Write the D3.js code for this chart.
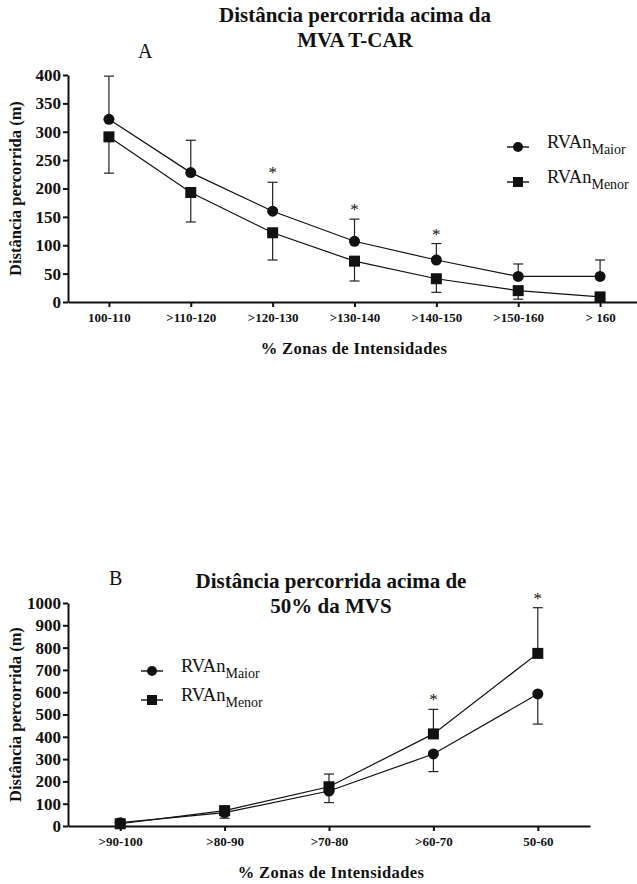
<!DOCTYPE html>
<html>
<head>
<meta charset="utf-8">
<script src="https://cdn.jsdelivr.net/npm/d3@7"></script>
<style>
  body { margin: 0; background: #fff; }
</style>
</head>
<body>
<div id="chart"></div>
<script>
var FONTE = "Liberation Serif";

// painel A
var zonasA = ["100-110", ">110-120", ">120-130", ">130-140", ">140-150", ">150-160", "> 160"];
var maiorA = [322, 228, 160, 107, 74, 45, 45];
var maiorErrA = [76, 57, 51, 39, 29, 22, 29];
var menorA = [291, 193, 122, 72, 41, 20, 9];
var menorErrA = [64, 52, 48, 35, 24, 15, 0];
var sigA = [2, 3, 4];
var ticksA = [0, 50, 100, 150, 200, 250, 300, 350, 400];

// painel B
var zonasB = [">90-100", ">80-90", ">70-80", ">60-70", "50-60"];
var maiorB = [15, 60, 157, 323, 592];
var maiorErrB = [5, 25, 52, 79, 135];
var menorB = [10, 69, 176, 413, 774];
var menorErrB = [5, 10, 57, 110, 205];
var sigB = [3, 4];
var ticksB = [0, 100, 200, 300, 400, 500, 600, 700, 800, 900, 1000];

var svg = d3.select("#chart").append("svg")
    .attr("width", 637)
    .attr("height", 884)
    .attr("font-family", FONTE);

function painel(cfg) {
    var x = d3.scalePoint()
        .domain(cfg.zonas)
        .range(cfg.xRange)
        .padding(0.5);
    var y = d3.scaleLinear()
        .domain([0, d3.max(cfg.ticks)])
        .range(cfg.yRange);

    var g = svg.append("g");

    // eixos
    var ax = g.append("g")
        .attr("transform", "translate(0," + cfg.yRange[0] + ")")
        .call(d3.axisBottom(x).tickSize(5).tickSizeOuter(0).tickPadding(6));
    ax.attr("font-family", FONTE);
    ax.selectAll("text").attr("font-family", FONTE).attr("font-size", 13)
        .attr("font-weight", "bold").attr("fill", "#111");

    var ay = g.append("g")
        .attr("transform", "translate(" + cfg.xRange[0] + ",0)")
        .call(d3.axisLeft(y).tickValues(cfg.ticks).tickFormat(d3.format("d"))
            .tickSize(5).tickSizeOuter(0).tickPadding(2));
    ay.attr("font-family", FONTE);
    ay.selectAll("text").attr("font-family", FONTE).attr("font-size", 17)
        .attr("font-weight", "bold").attr("fill", "#111");

    g.selectAll(".domain").attr("stroke-width", 2).attr("stroke", "#111");
    g.selectAll(".tick line").attr("stroke-width", 2).attr("stroke", "#111");

    // barras de erro
    function erros(vals, errs, dir) {
        vals.forEach(function(v, i) {
            if (!errs[i]) return;
            var cx = x(cfg.zonas[i]), y0 = y(v), y1 = y(v + dir * errs[i]);
            g.append("line").attr("x1", cx).attr("x2", cx).attr("y1", y0).attr("y2", y1)
                .attr("stroke", "#222").attr("stroke-width", 1.2);
            g.append("line").attr("x1", cx - 5).attr("x2", cx + 5).attr("y1", y1).attr("y2", y1)
                .attr("stroke", "#222").attr("stroke-width", 1.2);
        });
    }
    erros(cfg.maior, cfg.maiorErr, cfg.maiorDir);
    erros(cfg.menor, cfg.menorErr, -cfg.maiorDir);

    var line = d3.line()
        .x(function(d, i) { return x(cfg.zonas[i]); })
        .y(function(d) { return y(d); });

    [cfg.maior, cfg.menor].forEach(function(s) {
        g.append("path").datum(s).attr("d", line)
            .attr("fill", "none").attr("stroke", "#111").attr("stroke-width", 1.2);
    });

    g.selectAll(".pt-maior").data(cfg.maior).enter().append("circle")
        .attr("cx", function(d, i) { return x(cfg.zonas[i]); })
        .attr("cy", function(d) { return y(d); })
        .attr("r", 5.5).attr("fill", "#111");

    g.selectAll(".pt-menor").data(cfg.menor).enter().append("rect")
        .attr("x", function(d, i) { return x(cfg.zonas[i]) - 5.5; })
        .attr("y", function(d) { return y(d) - 5.5; })
        .attr("width", 11).attr("height", 11).attr("fill", "#111");

    // asteriscos
    cfg.sig.forEach(function(i) {
        var s = cfg.sigSerie, e = cfg.sigErr;
        g.append("text")
            .attr("x", x(cfg.zonas[i]))
            .attr("y", y(s[i] + e[i]) - 4)
            .attr("text-anchor", "middle")
            .attr("font-size", 17).attr("fill", "#111")
            .text("*");
    });

    // titulos
    cfg.titulo.forEach(function(t, k) {
        g.append("text")
            .attr("x", cfg.tituloX).attr("y", cfg.tituloY + k * 25)
            .attr("text-anchor", "middle")
            .attr("font-size", 21).attr("font-weight", "bold").attr("fill", "#111")
            .text(t);
    });
    g.append("text").attr("x", cfg.letra[1]).attr("y", cfg.letra[2])
        .attr("font-size", 20).attr("fill", "#111").text(cfg.letra[0]);

    var ymid = (cfg.yRange[0] + cfg.yRange[1]) / 2;
    g.append("text")
        .attr("transform", "translate(21," + ymid + ") rotate(-90)")
        .attr("text-anchor", "middle")
        .attr("font-size", 16.5).attr("font-weight", "bold").attr("fill", "#111")
        .text("Distância percorrida (m)");

    g.append("text")
        .attr("x", cfg.xTituloX).attr("y", cfg.yRange[0] + 52)
        .attr("text-anchor", "middle")
        .attr("font-size", 16.5).attr("font-weight", "bold").attr("fill", "#111")
        .attr("letter-spacing", 0.4)
        .text("% Zonas de Intensidades");

    // legenda
    [["Maior", "circle"], ["Menor", "rect"]].forEach(function(d, k) {
        var lx = cfg.leg[0], ly = cfg.leg[1] + k * cfg.leg[2];
        g.append("line").attr("x1", lx - 11).attr("x2", lx + 11).attr("y1", ly).attr("y2", ly)
            .attr("stroke", "#111").attr("stroke-width", 1.4);
        if (d[1] == "circle") {
            g.append("circle").attr("cx", lx).attr("cy", ly).attr("r", 5).attr("fill", "#111");
        } else {
            g.append("rect").attr("x", lx - 5).attr("y", ly - 5).attr("width", 10).attr("height", 10).attr("fill", "#111");
        }
        var t = g.append("text").attr("x", lx + 29).attr("y", ly + 1).attr("font-size", 18.5).attr("fill", "#111");
        t.append("tspan").text("RVAn");
        t.append("tspan").attr("font-size", 14).attr("dy", 6).text(d[0]);
    });
}

painel({
    zonas: zonasA, maior: maiorA, maiorErr: maiorErrA, menor: menorA, menorErr: menorErrA,
    maiorDir: 1, sig: sigA, sigSerie: maiorA, sigErr: maiorErrA, ticks: ticksA,
    xRange: [68, 641], yRange: [302, 75],
    titulo: ["Distância percorrida acima da", "MVA T-CAR"], tituloX: 355, tituloY: 22,
    letra: ["A", 138, 58], xTituloX: 354, leg: [518, 147, 35]
});

painel({
    zonas: zonasB, maior: maiorB, maiorErr: maiorErrB, menor: menorB, menorErr: menorErrB,
    maiorDir: -1, sig: sigB, sigSerie: menorB, sigErr: menorErrB, ticks: ticksB,
    xRange: [68, 590], yRange: [826, 603],
    titulo: ["Distância percorrida acima de", "50% da MVS"], tituloX: 331, tituloY: 588,
    letra: ["B", 109, 585], xTituloX: 331, leg: [152, 671, 29]
});
</script>
</body>
</html>
